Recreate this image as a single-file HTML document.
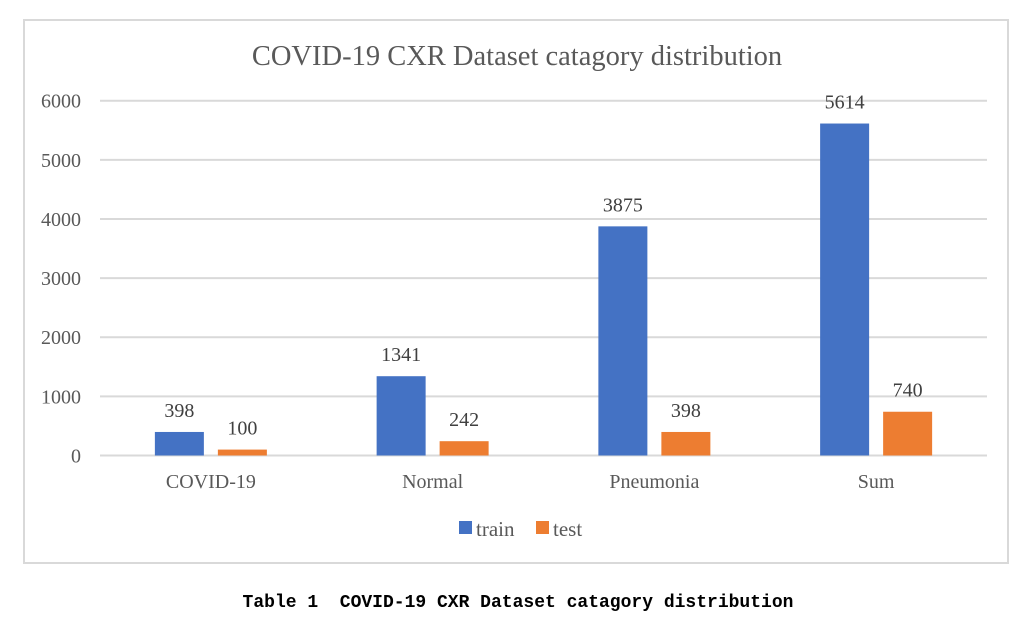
<!DOCTYPE html>
<html><head><meta charset="utf-8"><style>
body{margin:0;background:#fff;width:1035px;height:625px;overflow:hidden}
svg text{font-family:"Liberation Serif",serif}
</style></head><body>
<svg id="chart" width="1035" height="625" xmlns="http://www.w3.org/2000/svg">
<rect x="24" y="20" width="984" height="543" fill="#fff" stroke="#d9d9d9" stroke-width="2"/>
<text x="517" y="65" text-anchor="middle" font-size="28.5" fill="#595959">COVID-19 CXR Dataset catagory distribution</text>
<g id="grid"></g><g id="bars"></g>
<g>
<rect x="459" y="521" width="13" height="13" fill="#4472c4"/>
<text x="476" y="536" font-size="21" fill="#595959">train</text>
<rect x="536" y="521" width="13" height="13" fill="#ed7d31"/>
<text x="553" y="536" font-size="21" fill="#595959">test</text>
</g>
<text x="518" y="607" text-anchor="middle" font-size="18" font-weight="bold" style="font-family:'Liberation Mono',monospace" fill="#000" xml:space="preserve">Table 1  COVID-19 CXR Dataset catagory distribution</text>
</svg>
<script>
const categories=["COVID-19","Normal","Pneumonia","Sum"];
const trainValues=[398,1341,3875,5614];
const testValues=[100,242,398,740];
const yTicks=[0,1000,2000,3000,4000,5000,6000];
const NS="http://www.w3.org/2000/svg";
const x0=100,x1=987,yBase=455.5,yTop=100.7,yMax=6000;
const y=v=>yBase-(v/yMax)*(yBase-yTop);
const bw=(x1-x0)/categories.length;
const grid=document.getElementById('grid'),bars=document.getElementById('bars');
function mk(tag,attrs,parent,txt){const e=document.createElementNS(NS,tag);for(const k in attrs)e.setAttribute(k,attrs[k]);if(txt!==undefined)e.textContent=txt;parent.appendChild(e);return e;}
yTicks.forEach(t=>{
 const l=mk('line',{x1:x0,x2:x1,y1:y(t),y2:y(t),stroke:'#d9d9d9','stroke-width':2},grid);
 
 
 const tx=mk('text',{x:81,y:y(t)+7,'text-anchor':'end','font-size':20,fill:'#595959'},grid,t);
 
 
});
categories.forEach((c,i)=>{
 const cx=x0+bw*(i+0.5);
 const series=[[trainValues[i],'#4472c4',cx-56,'train'],[testValues[i],'#ed7d31',cx+7,'test']];
 series.forEach(([v,col,bx,nm])=>{
  const r=mk('rect',{x:bx,y:y(v),width:49,height:yBase-y(v),fill:col},bars);
  
  
  const lt=mk('text',{x:bx+24.5,y:y(v)-15,'text-anchor':'middle','font-size':20,fill:'#404040'},bars,v);
  
  
 });
 const cl=mk('text',{x:cx,y:488,'text-anchor':'middle','font-size':20,fill:'#595959'},bars,c);
 
 
});
</script>
</body></html>
